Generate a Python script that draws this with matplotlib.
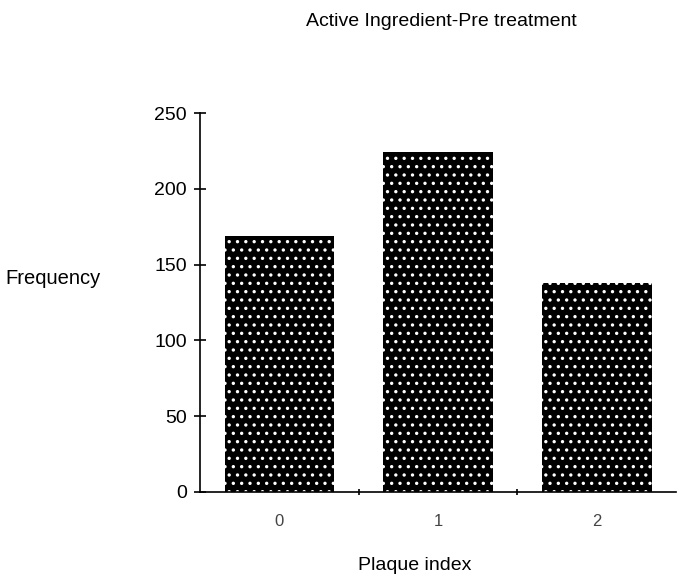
import matplotlib
matplotlib.use("Agg")
import matplotlib.pyplot as plt

categories = ["0", "1", "2"]
values = [169, 224, 138]
yticks = [0, 50, 100, 150, 200, 250]

plt.rcParams['font.family'] = ['Liberation Sans', 'DejaVu Sans']
plt.rcParams['hatch.linewidth'] = 1.2

fig = plt.figure(figsize=(6.83, 5.8), dpi=100)
ax = fig.add_axes([0.293, 0.152, 0.697, 0.653])
x = list(range(len(categories)))
ax.bar(x, values, width=0.69, color='black', edgecolor='white', hatch='..', linewidth=0)
ax.set_xlim(-0.5, 2.5)
ax.set_ylim(0, 250)
ax.set_yticks(yticks)
ax.set_yticklabels([str(v) for v in yticks], fontsize=14)
ax.set_xticks(x)
ax.set_xticklabels(categories, fontsize=12, color='#444444')
ax.tick_params(axis='x', length=0, pad=16)
ax.set_xticks([0.5, 1.5], minor=True)
ax.tick_params(axis='x', which='minor', length=5, direction='inout', width=1.2)
ax.tick_params(axis='y', direction='inout', length=9, width=1.2, pad=5)
for s in ['top', 'right']:
    ax.spines[s].set_visible(False)
for s in ['left', 'bottom']:
    ax.spines[s].set_linewidth(1.2)
fig.text(441/683, 1 - 21/580, "Active Ingredient-Pre treatment", fontsize=14, ha='center', va='center')
fig.text(5/683, 1 - 278/580, "Frequency", fontsize=14.5, ha='left', va='center')
fig.text(415/683, 1 - 565/580, "Plaque index", fontsize=14, ha='center', va='center')
fig.savefig("out.png", dpi=100)
